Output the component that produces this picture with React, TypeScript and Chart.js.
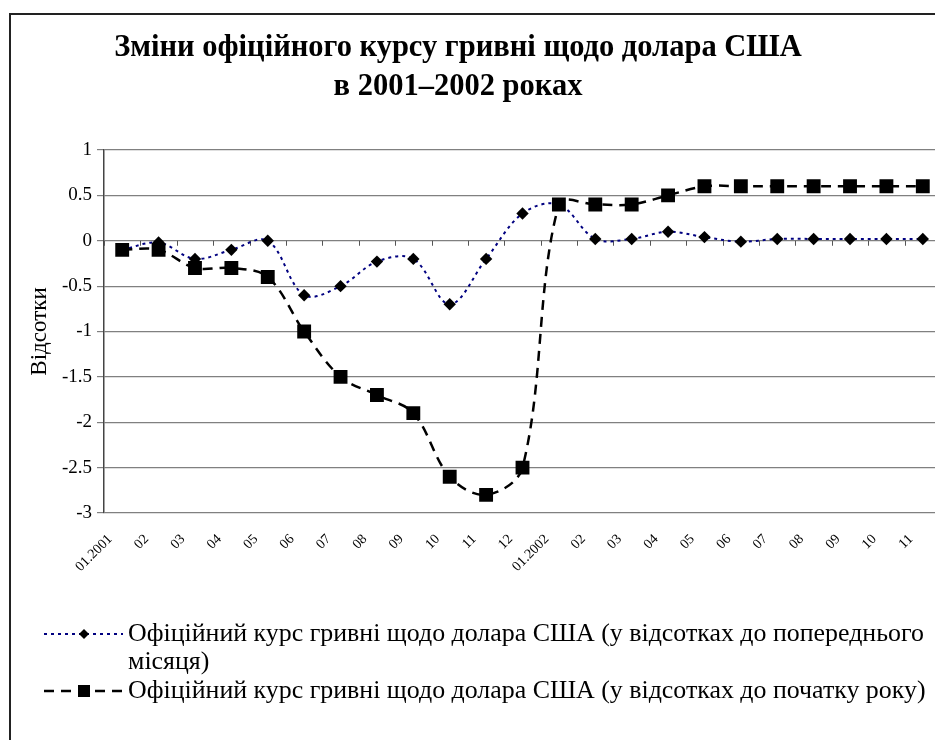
import React, { useEffect, useRef } from 'react';
import { Chart, registerables } from 'chart.js';

Chart.register(...registerables);

const months = ['01.2001', '02', '03', '04', '05', '06', '07', '08', '09', '10', '11', '12',
  '01.2002', '02', '03', '04', '05', '06', '07', '08', '09', '10', '11'];
const monthlyChange = [-0.1, -0.02, -0.2, -0.1, 0, -0.6, -0.5, -0.23, -0.2, -0.7, -0.2, 0.3,
  0.4, 0.02, 0.02, 0.1, 0.04, -0.01, 0.02, 0.02, 0.02, 0.02, 0.02];
const ytdChange = [-0.1, -0.1, -0.3, -0.3, -0.4, -1.0, -1.5, -1.7, -1.9, -2.6, -2.8, -2.5,
  0.4, 0.4, 0.4, 0.5, 0.6, 0.6, 0.6, 0.6, 0.6, 0.6, 0.6];
const titleLines = ['Зміни офіційного курсу гривні щодо долара США', 'в 2001–2002 роках'];
const yAxisTitle = 'Відсотки';
const legendMonthly = ['Офіційний курс гривні щодо долара США (у відсотках до попереднього', 'місяця)'];
const legendYtd = ['Офіційний курс гривні щодо долара США (у відсотках до початку року)'];

const SERIF = '"Liberation Serif", "Times New Roman", serif';

function drawMarker(ctx: CanvasRenderingContext2D, style: string, x: number, y: number, half: number) {
  ctx.beginPath();
  if (style === 'rectRot') {
    ctx.moveTo(x, y - half);
    ctx.lineTo(x + half, y);
    ctx.lineTo(x, y + half);
    ctx.lineTo(x - half, y);
    ctx.closePath();
  } else {
    ctx.rect(x - half, y - half, half * 2, half * 2);
  }
  ctx.fillStyle = '#000';
  ctx.fill();
}

const decorPlugin = {
  id: 'decor',
  beforeDraw(chart: any) {
    const ctx = chart.ctx as CanvasRenderingContext2D;
    ctx.save();
    ctx.fillStyle = '#fff';
    ctx.fillRect(0, 0, chart.width, chart.height);
    ctx.strokeStyle = '#222';
    ctx.lineWidth = 2;
    ctx.beginPath();
    ctx.moveTo(10, chart.height);
    ctx.lineTo(10, 14);
    ctx.lineTo(chart.width, 14);
    ctx.stroke();
    ctx.restore();
  },
  beforeDatasetsDraw(chart: any) {
    const ctx = chart.ctx as CanvasRenderingContext2D;
    const area = chart.chartArea;
    const y0 = chart.scales.y.getPixelForValue(0);
    const n = months.length;
    ctx.save();
    ctx.strokeStyle = '#555';
    ctx.lineWidth = 1;
    ctx.beginPath();
    for (let i = 0; i <= n; i++) {
      const x = Math.round(area.left + (i * (area.right - area.left)) / n) + 0.5;
      ctx.moveTo(x, y0);
      ctx.lineTo(x, y0 + 5);
    }
    ctx.stroke();
    ctx.restore();
  },
  afterDraw(chart: any) {
    const ctx = chart.ctx as CanvasRenderingContext2D;
    ctx.save();
    // title
    ctx.fillStyle = '#000';
    ctx.font = `bold 30.5px ${SERIF}`;
    ctx.textAlign = 'center';
    ctx.textBaseline = 'middle';
    ctx.fillText(titleLines[0], 458, 48);
    ctx.fillText(titleLines[1], 458, 87);

    // legend
    const entries = [
      { ds: chart.data.datasets[0], lines: legendMonthly, y: 634, half: 5 },
      { ds: chart.data.datasets[1], lines: legendYtd, y: 691, half: 6 },
    ];
    ctx.textAlign = 'left';
    ctx.font = `25.9px ${SERIF}`;
    for (const e of entries) {
      ctx.save();
      ctx.strokeStyle = e.ds.borderColor;
      ctx.lineWidth = e.ds.borderWidth;
      ctx.setLineDash(e.ds.borderDash || []);
      ctx.beginPath();
      ctx.moveTo(44, e.y);
      ctx.lineTo(123, e.y);
      ctx.stroke();
      ctx.restore();
      drawMarker(ctx, e.ds.pointStyle, 84, e.y, e.half);
      ctx.fillStyle = '#000';
      e.lines.forEach((t: string, i: number) => ctx.fillText(t, 128, e.y + i * 28));
    }
    ctx.restore();
  },
};

export default function App() {
  const ref = useRef<HTMLCanvasElement | null>(null);
  useEffect(() => {
    if (!ref.current) return;
    const chart = new Chart(ref.current, {
      type: 'line',
      data: {
        labels: months,
        datasets: [
          {
            label: legendMonthly.join(' '),
            data: monthlyChange,
            borderColor: '#000080',
            borderWidth: 2,
            borderDash: [3, 4],
            pointStyle: 'rectRot',
            pointRadius: 6.2,
            pointBackgroundColor: '#000',
            pointBorderColor: '#000',
            pointBorderWidth: 0,
            tension: 0.35,
            fill: false,
            order: 1,
          },
          {
            label: legendYtd[0],
            data: ytdChange,
            borderColor: '#000',
            borderWidth: 2.5,
            borderDash: [10, 7],
            pointStyle: 'rect',
            pointRadius: 9.8,
            pointBackgroundColor: '#000',
            pointBorderColor: '#000',
            pointBorderWidth: 0,
            tension: 0.35,
            fill: false,
            order: 0,
          },
        ],
      },
      options: {
        responsive: false,
        animation: false,
        devicePixelRatio: 1,
        layout: { autoPadding: false, padding: { top: 150, left: 0, right: 0, bottom: 167 } },
        plugins: {
          legend: { display: false },
          title: { display: false },
          tooltip: { enabled: false },
        },
        scales: {
          x: {
            type: 'category',
            offset: true,
            grid: { display: false, drawTicks: false },
            border: { display: false },
            ticks: {
              autoSkip: false,
              minRotation: 45,
              maxRotation: 45,
              padding: 18,
              labelOffset: -12,
              color: '#000',
              font: { family: SERIF, size: 14 },
            },
            afterFit: (s: any) => { s.height = 60; s.paddingRight = 0; s.paddingLeft = 0; },
          },
          y: {
            min: -3,
            max: 1,
            ticks: {
              stepSize: 0.5,
              padding: 5,
              color: '#000',
              font: { family: SERIF, size: 19 },
              callback: (v: any) => String(v),
            },
            grid: { color: '#808080', lineWidth: 1.2, tickLength: 7, tickColor: '#808080' },
            border: { color: '#444', width: 1.5 },
            title: {
              display: true,
              text: yAxisTitle,
              color: '#000',
              font: { family: SERIF, size: 23 },
              padding: { top: 26, bottom: 0 },
            },
            afterFit: (s: any) => { s.width = 104; },
          },
        },
      },
      plugins: [decorPlugin],
    });
    return () => chart.destroy();
  }, []);
  return (
    <div style={{ position: 'absolute', left: 0, top: 0, width: 935, height: 740, overflow: 'hidden' }}>
      <canvas ref={ref} width={941} height={740} style={{ display: 'block', width: 941, height: 740 }} />
    </div>
  );
}
